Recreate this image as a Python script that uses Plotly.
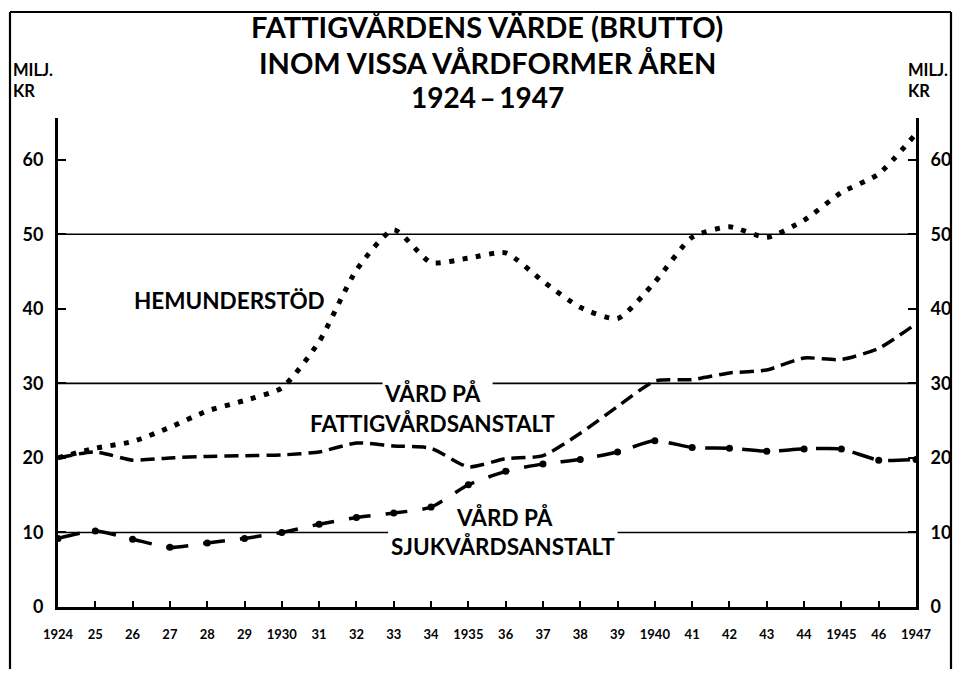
import plotly.graph_objects as go

# ---------------- data ----------------
years = list(range(1924, 1948))
year_labels = ["1924", "25", "26", "27", "28", "29", "1930", "31", "32", "33", "34", "1935",
               "36", "37", "38", "39", "1940", "41", "42", "43", "44", "1945", "46", "1947"]
hemunderstod = [20.0, 21.3, 22.2, 24.1, 26.3, 27.7, 29.4, 35.6, 45.2, 50.6, 46.2, 46.8,
                47.5, 43.7, 40.2, 38.7, 43.6, 49.6, 51.0, 49.6, 51.9, 55.6, 58.1, 63.5]
fattigvardsanstalt = [20.0, 20.8, 19.7, 20.0, 20.2, 20.3, 20.4, 20.8, 22.0, 21.6, 21.3, 18.8,
                      19.9, 20.3, 23.3, 26.9, 30.3, 30.5, 31.4, 31.8, 33.4, 33.2, 34.7, 38.0]
sjukvardsanstalt = [9.2, 10.2, 9.1, 8.0, 8.6, 9.2, 10.0, 11.1, 12.0, 12.6, 13.4, 16.4,
                    18.2, 19.2, 19.8, 20.8, 22.3, 21.4, 21.3, 20.9, 21.2, 21.2, 19.7, 19.8]
y_ticks = [0, 10, 20, 30, 40, 50, 60]

# ---------------- layout constants ----------------
OFF = 8                      # page body margin of the html page
W, H = 961 - 2 * OFF, 677 - 2 * OFF
PL, PR, PT, PB = 58, 916, 118, 607    # plot box in window pixels
ML, MT = PL - OFF, PT - OFF
MR = W - (PR - OFF)
MB = H - (PB - OFF)
PW, PH = PR - PL, PB - PT
FONT = "Lato"


def px(xp):
    return (xp - PL) / PW


def py(yp):
    return (PB - yp) / PH


fig = go.Figure()

fig.add_trace(go.Scatter(
    x=years, y=hemunderstod, mode="lines", hoverinfo="skip", showlegend=False,
    line=dict(color="black", width=5, dash="5px,8.5px", shape="spline", smoothing=0.6)))
fig.add_trace(go.Scatter(
    x=years, y=fattigvardsanstalt, mode="lines", hoverinfo="skip", showlegend=False,
    line=dict(color="black", width=3.5, dash="14px,7px", shape="spline", smoothing=0.6)))
fig.add_trace(go.Scatter(
    x=years, y=sjukvardsanstalt, mode="lines+markers", hoverinfo="skip", showlegend=False,
    line=dict(color="black", width=3.5, dash="22px,15px", shape="spline", smoothing=0.6),
    marker=dict(color="black", size=7)))
# invisible trace to carry the right-hand axis
fig.add_trace(go.Scatter(
    x=years, y=hemunderstod, yaxis="y2", mode="lines", hoverinfo="skip", showlegend=False,
    line=dict(color="rgba(0,0,0,0)", width=0)))

# horizontal reference lines (with gaps where the labels sit)
grid_segments = [
    (50, 1924, 1947),
    (30, 1924, 1932.7), (30, 1935.65, 1947),
    (10, 1924, 1932.85), (10, 1939.0, 1947),
]
shapes = []
for yv, x0, x1 in grid_segments:
    shapes.append(dict(type="line", xref="x", yref="y", x0=x0, x1=x1, y0=yv, y1=yv,
                       line=dict(color="black", width=1.6), layer="below"))
# outer frame (left, top, right sides; bottom runs off the page)
FL, FT, FR, FB = 10, 12, 951, 672
frame = [(FL, FT, FL, FB), (FL, FT, FR, FT), (FR, FT, FR, FB)]
for xa, ya, xb, yb in frame:
    shapes.append(dict(type="line", xref="paper", yref="paper",
                       x0=px(xa), y0=py(ya), x1=px(xb), y1=py(yb),
                       line=dict(color="black", width=2.2)))

anns = []
title_font = dict(family=FONT, size=29, color="black", weight="bold")
title_lines = [("FATTIGVÅRDENS VÄRDE (BRUTTO)", 27, 29),
               ("INOM VISSA VÅRDFORMER ÅREN", 62, 29),
               ("1924\u2009–\u20091947", 97, 28)]
for txt, yc, fs in title_lines:
    anns.append(dict(text=txt, xref="paper", yref="paper", x=px(487), y=py(yc),
                     xanchor="center", yanchor="middle", showarrow=False,
                     font=dict(title_font, size=fs)))

unit_font = dict(family=FONT, size=16.5, color="black", weight="bold")
anns.append(dict(text="MILJ.<br>KR", xref="paper", yref="paper", x=px(11), y=py(80),
                 xanchor="left", yanchor="middle", align="left", showarrow=False,
                 font=unit_font))
anns.append(dict(text="MILJ.<br>KR", xref="paper", yref="paper", x=px(950), y=py(80),
                 xanchor="right", yanchor="middle", align="left", showarrow=False,
                 font=unit_font))

lab_font = dict(family=FONT, size=22.5, color="black", weight="bold")
labels = [("HEMUNDERSTÖD", 229, 300),
          ("VÅRD PÅ", 432, 393),
          ("FATTIGVÅRDSANSTALT", 432, 424),
          ("VÅRD PÅ", 505, 517),
          ("SJUKVÅRDSANSTALT", 503, 546)]
for txt, xc, yc in labels:
    anns.append(dict(text=txt, xref="paper", yref="paper", x=px(xc), y=py(yc),
                     xanchor="center", yanchor="middle", showarrow=False, font=lab_font))

yaxis_common = dict(range=[0, 65.6], tickvals=y_ticks, ticks="inside", ticklen=8,
                    tickwidth=2, tickcolor="black", showline=True, linewidth=3,
                    linecolor="black", showgrid=False, zeroline=False, fixedrange=True,
                    tickfont=dict(family=FONT, size=18, color="black", weight="bold"),
                    ticklabelstandoff=8)

fig.update_layout(
    width=W, height=H,
    margin=dict(l=ML, r=MR, t=MT, b=MB, pad=0, autoexpand=False),
    paper_bgcolor="white", plot_bgcolor="white",
    showlegend=False,
    xaxis=dict(range=[1924, 1947], tickvals=years, ticktext=year_labels,
               ticks="inside", ticklen=6, tickwidth=2, tickcolor="black",
               showline=True, linewidth=2.5, linecolor="black", showgrid=False,
               zeroline=False, fixedrange=True, ticklabelstandoff=14,
               tickfont=dict(family=FONT, size=13, color="black", weight="bold")),
    yaxis=dict(side="left", **yaxis_common),
    yaxis2=dict(side="right", overlaying="y", **yaxis_common),
    shapes=shapes,
    annotations=anns,
)

fig.write_html("out.html")
